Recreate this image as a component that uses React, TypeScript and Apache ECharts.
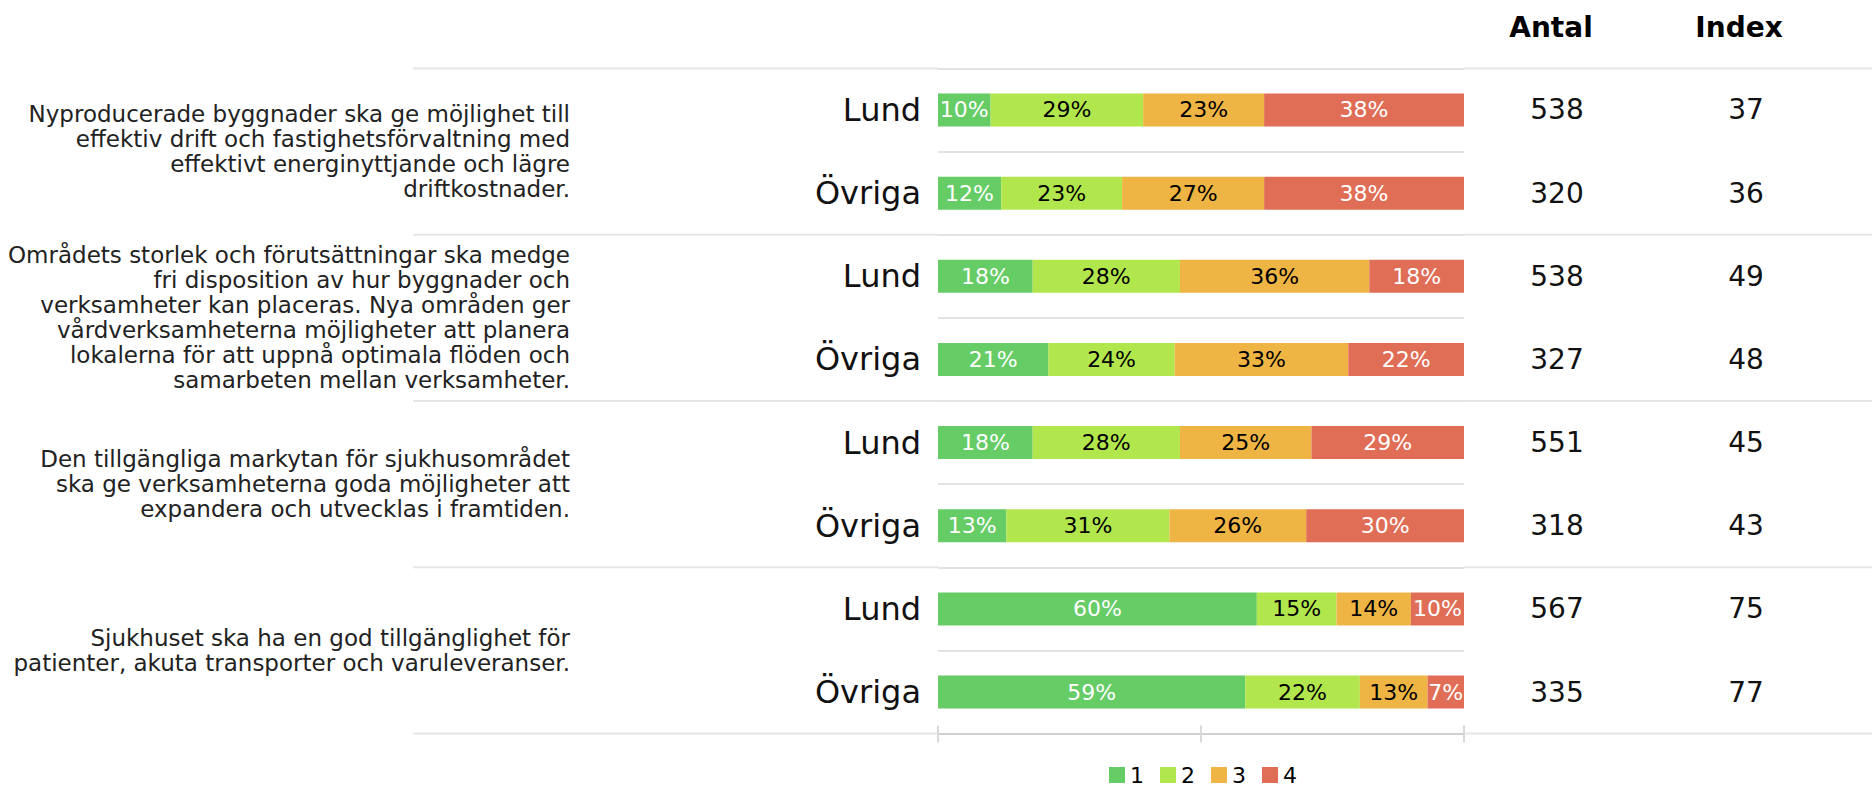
import React, { useEffect, useRef } from "react";
import * as echarts from "echarts";

const FONT = "'DejaVu Sans', sans-serif";

const rowLabels = ["Lund", "Övriga", "Lund", "Övriga", "Lund", "Övriga", "Lund", "Övriga"];
const questions = [
  "Nyproducerade byggnader ska ge möjlighet till\neffektiv drift och fastighetsförvaltning med\neffektivt energinyttjande och lägre\ndriftkostnader.",
  "Områdets storlek och förutsättningar ska medge\nfri disposition av hur byggnader och\nverksamheter kan placeras. Nya områden ger\nvårdverksamheterna möjligheter att planera\nlokalerna för att uppnå optimala flöden och\nsamarbeten mellan verksamheter.",
  "Den tillgängliga markytan för sjukhusområdet\nska ge verksamheterna goda möjligheter att\nexpandera och utvecklas i framtiden.",
  "Sjukhuset ska ha en god tillgänglighet för\npatienter, akuta transporter och varuleveranser.",
];
const seriesNames = ["1", "2", "3", "4"];
const level1 = [10, 12, 18, 21, 18, 13, 60, 59];
const level2 = [29, 23, 28, 24, 28, 31, 15, 22];
const level3 = [23, 27, 36, 33, 25, 26, 14, 13];
const level4 = [38, 38, 18, 22, 29, 30, 10, 7];
const antal = [538, 320, 538, 327, 551, 318, 567, 335];
const indexValues = [37, 36, 49, 48, 45, 43, 75, 77];
const headers = ["Antal", "Index"];

const colors = ["#66cc66", "#b2e64d", "#efb544", "#e06e56"];
const labelColors = ["#ffffff", "#000000", "#000000", "#ffffff"];

export default function App() {
  const ref = useRef<HTMLDivElement>(null);

  useEffect(() => {
    if (!ref.current) return;
    const chart = echarts.init(ref.current, undefined, { renderer: "svg" });
    const levels = [level1, level2, level3, level4];
    const rowSums = rowLabels.map((_, i) => levels.reduce((s, l) => s + l[i], 0));

    const option: any = {
      animation: false,
      backgroundColor: "#ffffff",
      textStyle: { fontFamily: FONT },
      legend: {
        data: seriesNames,
        left: 1109,
        top: 764,
        padding: 0,
        icon: "rect",
        itemWidth: 16,
        itemHeight: 16,
        itemGap: 16,
        textStyle: { fontSize: 22, lineHeight: 22, color: "#000", fontFamily: FONT },
      },
      grid: {
        left: 938,
        right: 408,
        top: 68.4,
        bottom: 54.4,
        outerBoundsMode: "none",
        containLabel: false,
      },
      xAxis: [
        {
          type: "value",
          min: 0,
          max: 100,
          interval: 50,
          axisLabel: { show: false },
          splitLine: { show: false },
          axisLine: { show: true, lineStyle: { color: "#d0d0d0", width: 2 } },
          axisTick: { show: true, length: 9, lineStyle: { color: "#d9d9d9", width: 2 } },
        },
        {
          type: "value",
          min: 0,
          max: 100,
          interval: 50,
          position: "bottom",
          axisLabel: { show: false },
          splitLine: { show: false },
          axisLine: { show: false },
          axisTick: { show: true, inside: true, length: 8, lineStyle: { color: "#d9d9d9", width: 2 } },
        },
      ],
      yAxis: [
        {
          type: "category",
          data: rowLabels,
          inverse: true,
          axisLine: { show: false },
          axisTick: { show: false },
          axisLabel: { fontSize: 32, color: "#111", margin: 17, fontFamily: FONT },
          splitLine: { show: true, lineStyle: { color: "#e3e3e3", width: 2 } },
        },
        {
          type: "category",
          data: antal.map(String),
          inverse: true,
          position: "right",
          offset: 93,
          axisLine: { show: false },
          axisTick: { show: false },
          splitLine: { show: false },
          axisLabel: { fontSize: 28, color: "#111", margin: 0, align: "center", fontFamily: FONT },
        },
        {
          type: "category",
          data: indexValues.map(String),
          inverse: true,
          position: "right",
          offset: 282,
          axisLine: { show: false },
          axisTick: { show: false },
          splitLine: { show: false },
          axisLabel: { fontSize: 28, color: "#111", margin: 0, align: "center", fontFamily: FONT },
        },
        {
          type: "category",
          data: questions,
          inverse: true,
          position: "left",
          offset: 368,
          axisLine: { show: false },
          axisTick: { show: false },
          splitLine: { show: false },
          axisLabel: {
            fontSize: 23,
            lineHeight: 25,
            color: "#222",
            margin: 0,
            align: "right",
            fontFamily: FONT,
            interval: 0,
          },
        },
      ],
      series: seriesNames.map((name, k) => ({
        name,
        type: "bar",
        stack: "total",
        barWidth: 33,
        xAxisIndex: 0,
        yAxisIndex: 0,
        itemStyle: { color: colors[k] },
        label: {
          show: true,
          position: "inside",
          color: labelColors[k],
          fontSize: 22,
          fontFamily: FONT,
          formatter: (p: any) => `${p.data.raw}%`,
        },
        data: levels[k].map((v, i) => ({ value: (v / rowSums[i]) * 100, raw: v })),
      })),
    };
    chart.setOption(option);

    const yc = (i: number) => chart.convertToPixel({ yAxisIndex: 0 }, i) as number;
    const half = (yc(1) - yc(0)) / 2;
    const groupYs = [yc(0) - half, yc(1) + half, yc(3) + half, yc(5) + half, yc(7) + half];
    const x1 = chart.convertToPixel({ xAxisIndex: 0 }, 0) as number;
    const x2 = chart.convertToPixel({ xAxisIndex: 0 }, 100) as number;
    const antalX = x2 + 93;
    const indexX = x2 + 282;

    const graphics: any[] = [];
    groupYs.forEach((y) => {
      graphics.push({
        type: "line",
        z: -1,
        shape: { x1: 413, y1: y, x2: x1, y2: y },
        style: { stroke: "#e6e6e6", lineWidth: 2 },
      });
      graphics.push({
        type: "line",
        z: -1,
        shape: { x1: x2, y1: y, x2: 1872, y2: y },
        style: { stroke: "#e6e6e6", lineWidth: 2 },
      });
    });
    [antalX - 6, indexX - 7].forEach((x, i) => {
      graphics.push({
        type: "text",
        x,
        y: 27,
        style: {
          text: headers[i],
          fontSize: 28,
          fontWeight: "bold",
          fontFamily: FONT,
          fill: "#000",
          textAlign: "center",
          textVerticalAlign: "middle",
        },
      });
    });
    chart.setOption({ graphic: graphics });

    return () => chart.dispose();
  }, []);

  return (
    <div
      ref={ref}
      style={{ position: "fixed", left: 0, top: 0, width: 1872, height: 788, background: "#fff" }}
    />
  );
}
